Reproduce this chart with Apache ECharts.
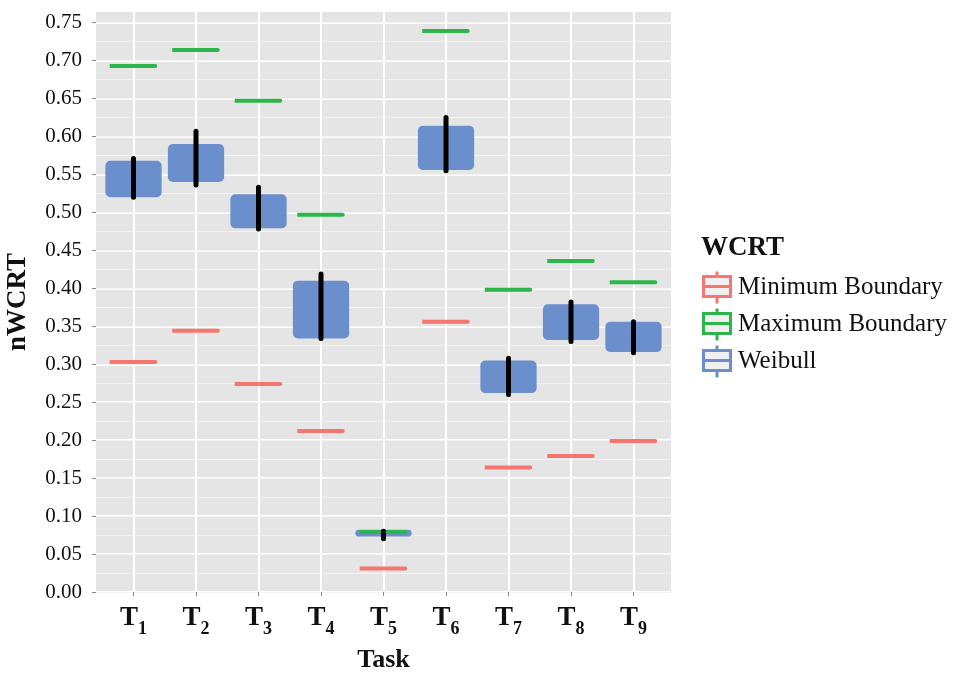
<!DOCTYPE html>
<html>
<head>
<meta charset="utf-8">
<script src="https://cdn.jsdelivr.net/npm/echarts@6/dist/echarts.min.js"></script>
<style>
  html, body { margin: 0; padding: 0; background: #fff; }
  #chart { width: 960px; height: 675px; }
</style>
</head>
<body>
<div id="chart"></div>
<script>
// tasks on the x axis
const tasks = ["T1", "T2", "T3", "T4", "T5", "T6", "T7", "T8", "T9"];
const taskPos = [1, 2, 3, 4, 5, 6, 7, 8, 9];
const yTicks = [0, 0.75];

// boundary values per task
const minBound = [0.303, 0.344, 0.274, 0.212, 0.031, 0.356, 0.164, 0.179, 0.199];
const maxBound = [0.693, 0.714, 0.647, 0.497, 0.079, 0.739, 0.398, 0.436, 0.408];

// weibull cloud (low / high of the jittered points)
const weibullLow = [0.520, 0.540, 0.479, 0.334, 0.073, 0.556, 0.262, 0.332, 0.316];
const weibullHigh = [0.568, 0.590, 0.524, 0.410, 0.082, 0.614, 0.305, 0.379, 0.356];

// black whisker range per task
const rangeLow = [0.520, 0.536, 0.478, 0.334, 0.070, 0.555, 0.260, 0.330, 0.315];
const rangeHigh = [0.571, 0.607, 0.533, 0.419, 0.080, 0.625, 0.308, 0.382, 0.356];

const RED = "#F4766E";
const GREEN = "#2DB54B";
const BLUE = "#6B8FCC";
const SERIF = "'Liberation Serif', 'Times New Roman', serif";

const keyIcon = "path://M13.5,0V5M0,5H27V25H0ZM0,15H27M13.5,25V32";

const chart = echarts.init(document.getElementById("chart"));

function blob(params, api) {
  const x = api.value(0);
  const lo = api.coord([x, api.value(1)]);
  const hi = api.coord([x, api.value(2)]);
  const w = api.size([1, 0])[0] * 0.9;
  return {
    type: "rect",
    shape: { x: lo[0] - w / 2, y: hi[1], width: w, height: lo[1] - hi[1], r: 5 },
    style: { fill: BLUE },
  };
}

function bar(color) {
  return function (params, api) {
    const p = api.coord([api.value(0), api.value(1)]);
    const w = api.size([1, 0])[0] * 0.76;
    return {
      type: "rect",
      shape: { x: p[0] - w / 2, y: p[1] - 2, width: w, height: 4, r: [0, 2, 2, 0] },
      style: { fill: color },
    };
  };
}

function whisker(params, api) {
  const x = api.value(0);
  const lo = api.coord([x, api.value(1)]);
  const hi = api.coord([x, api.value(2)]);
  return {
    type: "line",
    shape: { x1: lo[0], y1: lo[1], x2: hi[0], y2: hi[1] },
    style: { stroke: "#000", lineWidth: 5, lineCap: "round" },
  };
}

chart.setOption({
  animation: false,
  title: {
    text: "WCRT",
    left: 696,
    top: 230,
    textStyle: { fontFamily: SERIF, fontWeight: "bold", fontSize: 27, color: "#111" },
  },
  legend: {
    orient: "vertical",
    left: 697,
    top: 265,
    itemWidth: 32,
    itemHeight: 32,
    itemGap: 2,
    selectedMode: false,
    textStyle: { fontFamily: SERIF, fontSize: 25, color: "#111" },
    data: [
      { name: "Minimum Boundary", icon: keyIcon, itemStyle: { color: "#F0F0F0", borderColor: RED, borderWidth: 3 } },
      { name: "Maximum Boundary", icon: keyIcon, itemStyle: { color: "#F0F0F0", borderColor: GREEN, borderWidth: 3 } },
      { name: "Weibull", icon: keyIcon, itemStyle: { color: "#F0F0F0", borderColor: BLUE, borderWidth: 3 } },
    ],
  },
  grid: {
    left: 96,
    right: 289,
    top: 12,
    bottom: 83,
    outerBoundsMode: "none",
    show: true,
    backgroundColor: "#E5E5E5",
    borderWidth: 0,
  },
  xAxis: {
    type: "value",
    min: 0.4,
    max: 9.6,
    name: "Task",
    nameLocation: "middle",
    nameGap: 55,
    nameTextStyle: { fontFamily: SERIF, fontWeight: "bold", fontSize: 26, color: "#111" },
    axisLine: { show: false },
    axisTick: { show: true, customValues: taskPos, length: 4, lineStyle: { color: "#888" } },
    splitLine: { show: true, lineStyle: { color: "#fff", width: 2 } },
    axisLabel: {
      margin: 13,
      customValues: taskPos,
      formatter: (v) => "{t|T}{s|" + tasks[Math.round(v) - 1].slice(1) + "}",
      rich: {
        t: { fontFamily: SERIF, fontWeight: "bold", fontSize: 27, color: "#111", verticalAlign: "bottom" },
        s: { fontFamily: SERIF, fontWeight: "bold", fontSize: 18, color: "#111", verticalAlign: "bottom", padding: [0, 0, -6, 0] },
      },
    },
  },
  yAxis: [
    {
      type: "value",
      min: yTicks[0],
      max: 0.764,
      interval: 0.05,
      name: "nWCRT",
      nameLocation: "middle",
      nameGap: 64,
      nameRotate: 90,
      nameTextStyle: { fontFamily: SERIF, fontWeight: "bold", fontSize: 27, color: "#111" },
      axisLine: { show: false },
      axisTick: { show: true, length: 4, lineStyle: { color: "#888" } },
      axisLabel: {
        margin: 14,
        fontFamily: SERIF,
        fontSize: 21,
        color: "#111",
        showMaxLabel: false,
        formatter: (v) => (v > yTicks[1] + 1e-9 ? "" : v.toFixed(2)),
      },
      splitLine: { show: true, showMaxLine: false, lineStyle: { color: "#fff", width: 2 } },
    },
    {
      type: "value",
      min: yTicks[0],
      max: 0.764,
      interval: 0.025,
      position: "left",
      axisLine: { show: false },
      axisTick: { show: false },
      axisLabel: { show: false },
      splitLine: { show: true, showMaxLine: false, lineStyle: { color: "#F3F3F3", width: 1 } },
    },
  ],
  series: [
    {
      name: "Weibull",
      type: "custom",
      renderItem: blob,
      encode: { x: 0, y: [1, 2] },
      itemStyle: { color: BLUE },
      data: taskPos.map((p, i) => [p, weibullLow[i], weibullHigh[i]]),
      z: 2,
    },
    {
      name: "Minimum Boundary",
      type: "custom",
      renderItem: bar(RED),
      encode: { x: 0, y: 1 },
      itemStyle: { color: RED },
      data: taskPos.map((p, i) => [p, minBound[i]]),
      z: 3,
    },
    {
      name: "Maximum Boundary",
      type: "custom",
      renderItem: bar(GREEN),
      encode: { x: 0, y: 1 },
      itemStyle: { color: GREEN },
      data: taskPos.map((p, i) => [p, maxBound[i]]),
      z: 3,
    },
    {
      name: "range",
      type: "custom",
      renderItem: whisker,
      encode: { x: 0, y: [1, 2] },
      data: taskPos.map((p, i) => [p, rangeLow[i], rangeHigh[i]]),
      z: 4,
    },
  ],
});
</script>
</body>
</html>
